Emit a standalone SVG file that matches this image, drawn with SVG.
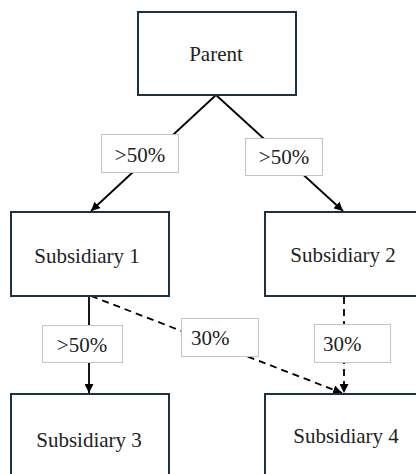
<svg xmlns="http://www.w3.org/2000/svg" width="416" height="474" viewBox="0 0 416 474">
<style>
.node{fill:#fff;stroke:#1b3245;stroke-width:2}
.lbl{fill:#fff;stroke:#c4c4c4;stroke-width:1}
text{font-family:'Liberation Serif','Times New Roman','DejaVu Serif','Noto Serif',serif;font-size:21px;fill:#222}
.c{text-anchor:middle}
.edge{stroke:#000;stroke-width:1.8;fill:none}
.dash{stroke-dasharray:7 5}
</style>
<defs>
<marker id="ah" viewBox="0 0 10 10" refX="10" refY="5" markerWidth="5" markerHeight="5" orient="auto" markerUnits="strokeWidth">
<path d="M0,0 L10,5 L0,10 z" fill="#000"/>
</marker>
</defs>
<rect width="416" height="474" fill="#fff"/>
<g id="connectors">
<line class="edge" x1="216" y1="95" x2="91" y2="211" marker-end="url(#ah)"/>
<line class="edge" x1="216" y1="95" x2="343" y2="211" marker-end="url(#ah)"/>
<line class="edge" x1="89" y1="296" x2="89" y2="393" marker-end="url(#ah)"/>
<line class="edge dash" x1="91" y1="296" x2="342" y2="393" marker-end="url(#ah)"/>
<line class="edge dash" x1="344" y1="297" x2="344" y2="393" marker-end="url(#ah)"/>
</g>
<g id="parent">
<rect class="node" x="138" y="12" width="158" height="83"/>
<text class="c" x="216" y="61" font-family="Liberation Serif, serif">Parent</text>
</g>
<g id="sub1">
<rect class="node" x="11" y="212" width="158" height="84"/>
<text class="c" x="87" y="263">Subsidiary 1</text>
</g>
<g id="sub2">
<rect class="node" x="265" y="212" width="160" height="84"/>
<text class="c" x="343" y="262">Subsidiary 2</text>
</g>
<g id="sub3">
<rect class="node" x="11" y="394" width="158" height="90"/>
<text class="c" x="89" y="447">Subsidiary 3</text>
</g>
<g id="sub4">
<rect class="node" x="265" y="394" width="160" height="90"/>
<text class="c" x="346" y="443">Subsidiary 4</text>
</g>
<g id="label-p-s1">
<rect class="lbl" x="101.5" y="134.5" width="77" height="38"/>
<text class="c" x="140" y="162">&gt;50%</text>
</g>
<g id="label-p-s2">
<rect class="lbl" x="245.5" y="138.5" width="77" height="37"/>
<text class="c" x="284" y="164">&gt;50%</text>
</g>
<g id="label-s1-s3">
<rect class="lbl" x="42.5" y="325.5" width="80" height="37"/>
<text class="c" x="82" y="352">&gt;50%</text>
</g>
<g id="label-s1-s4">
<rect class="lbl" x="181.5" y="318.5" width="77" height="38"/>
<text x="191" y="345">30%</text>
</g>
<g id="label-s2-s4">
<rect class="lbl" x="314.5" y="324.5" width="76" height="38"/>
<text x="323" y="351">30%</text>
</g>
</svg>
